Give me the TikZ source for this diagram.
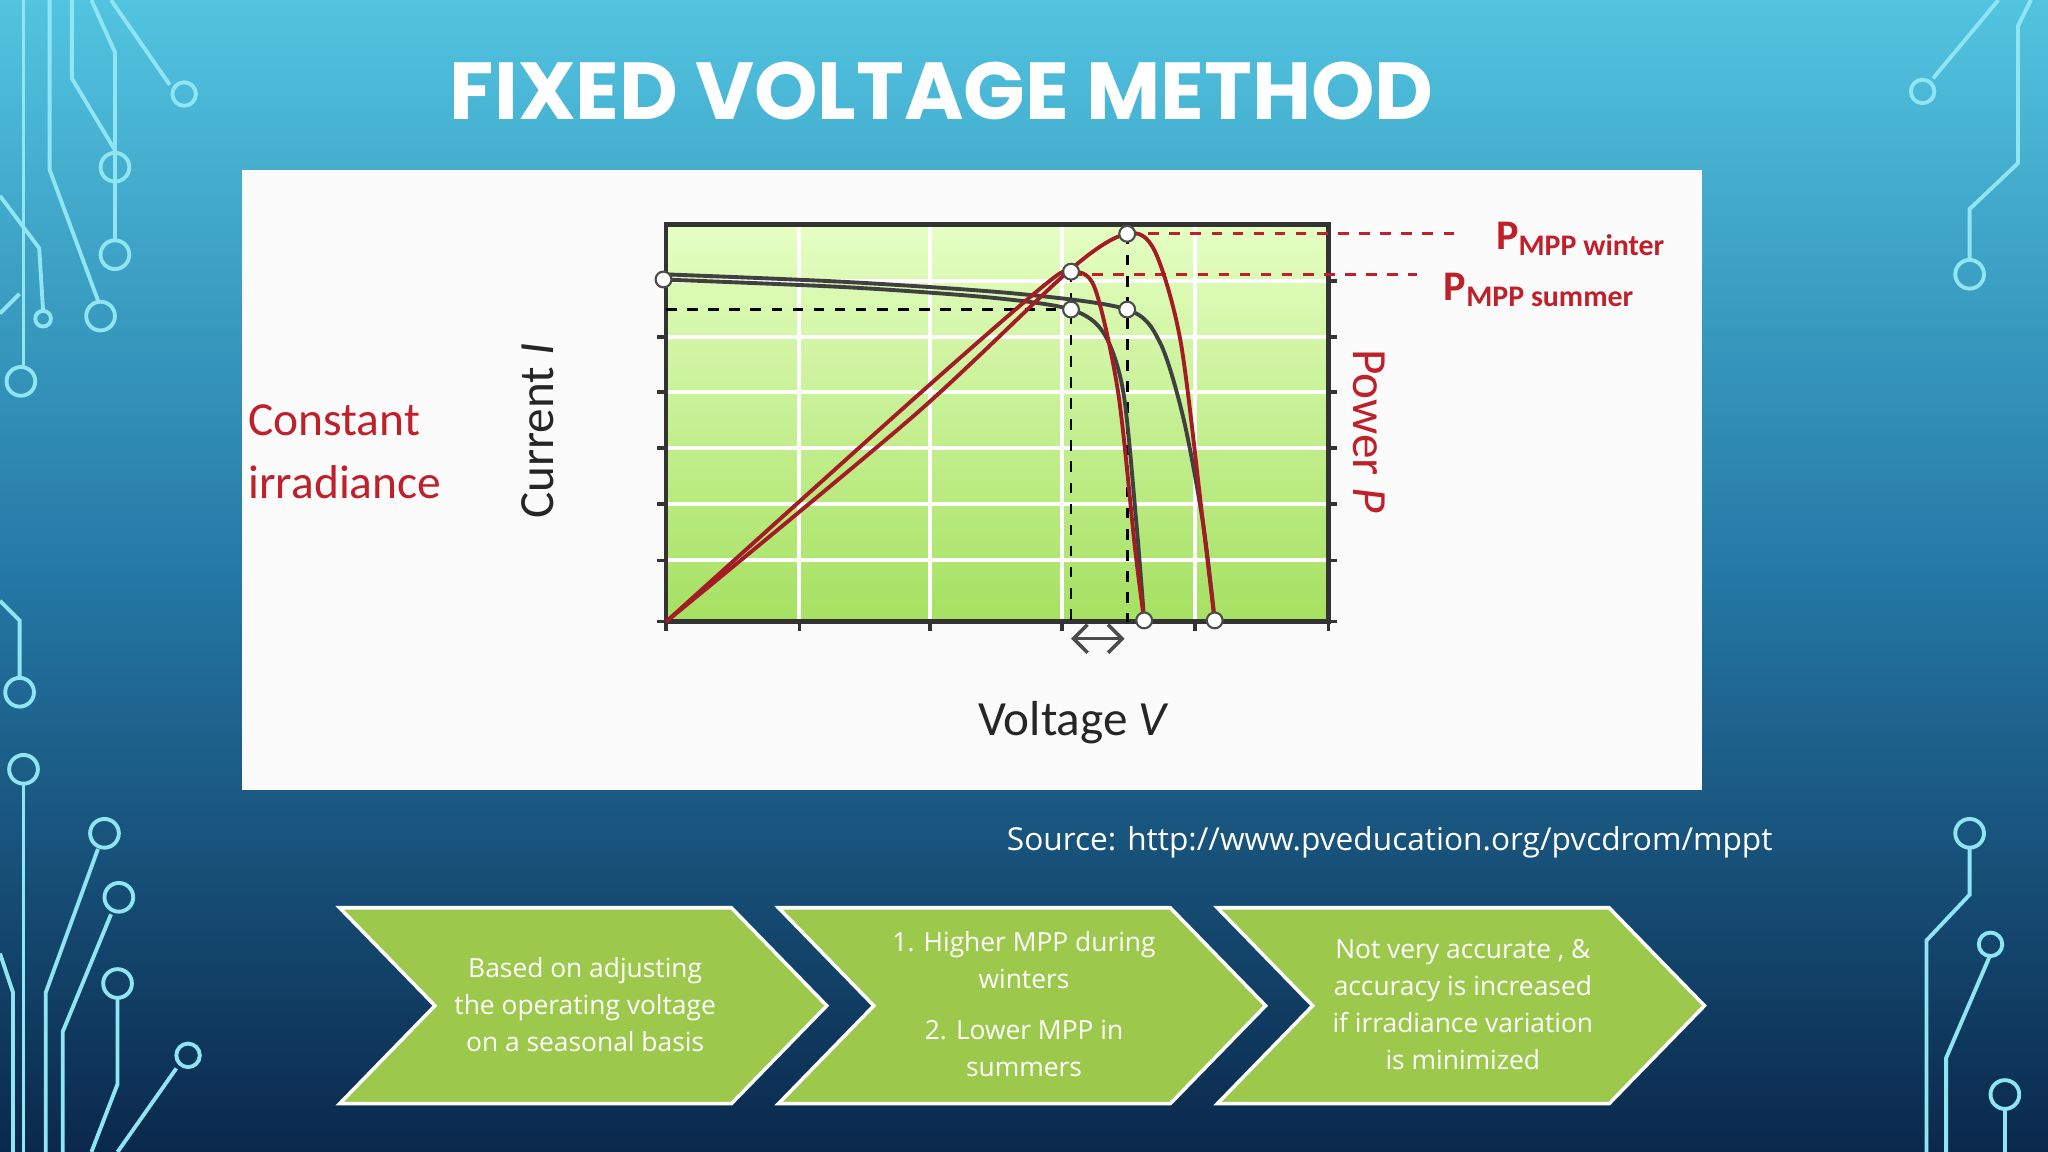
\documentclass[tikz,border=0pt]{standalone}
\usepackage{fontspec}
\setmainfont{Open Sans}
\newfontfamily\calfnt{Carlito}
\newfontfamily\ttlfnt{Poppins}
\usetikzlibrary{arrows.meta}
\definecolor{chev}{HTML}{9CC94C}
\definecolor{dred}{HTML}{C0202A}
\definecolor{circ}{HTML}{8FE6F2}
\tikzset{
 grid/.style={white,line width=1.2pt},
 mk/.style={circle,draw=black!70,fill=white,inner sep=0pt,minimum size=4.5pt,line width=0.6pt},
 chevbox/.style={fill=chev,draw=white,line width=1pt},
 chtxt/.style={white,font=\fontsize{7.5}{10.5}\selectfont,align=center},
 cl/.style={circ,line width=1.1pt},
 cc/.style={circ,line width=1.1pt,fill=none}
}
\begin{document}
\begin{tikzpicture}[x=0.013061cm,y=-0.013061cm]
\useasboundingbox (0,0) rectangle (1568,882);
\fill[top color={rgb,255:red,82;green,196;blue,224}, bottom color={rgb,255:red,10;green,40;blue,75}, middle color={rgb,255:red,36;green,120;blue,165}] (0,0) rectangle (1568,882);
% circuits left
\draw[cl] (18,0) -- (18,280); \draw[cc] (16,292) circle (11);
\draw[cl] (38,0) -- (38,130) -- (75,230); \draw[cc] (77,242) circle (11);
\draw[cl] (55,0) -- (55,60) -- (88,115); \draw[cc] (88,128) circle (11);
\draw[cl] (70,0) -- (88,40) -- (88,185); \draw[cc] (88,195) circle (11);
\draw[cl] (85,0) -- (130,65); \draw[cc] (141,72) circle (9);
\draw[cl] (0,150) -- (30,190) -- (33,238); \draw[cc] (33,244) circle (6);
\draw[cl] (0,240) -- (15,225);
\draw[cl] (0,460) -- (15,475) -- (15,518); \draw[cc] (15,530) circle (11);
\draw[cl] (18,600) -- (18,882); \draw[cc] (18,589) circle (11);
\draw[cl] (0,730) -- (10,760) -- (10,882);
\draw[cl] (35,882) -- (35,760) -- (75,650); \draw[cc] (80,638) circle (11);
\draw[cl] (48,882) -- (48,790) -- (85,700); \draw[cc] (91,687) circle (11);
\draw[cl] (70,882) -- (90,830) -- (90,765); \draw[cc] (90,753) circle (11);
\draw[cl] (90,882) -- (135,818); \draw[cc] (144,808) circle (9);
% circuits right
\draw[cl] (1530,0) -- (1480,60); \draw[cc] (1472,70) circle (9);
\draw[cl] (1555,0) -- (1545,20) -- (1545,125) -- (1508,160) -- (1508,198); \draw[cc] (1508,210) circle (11);
\draw[cl] (1508,650) -- (1508,685) -- (1475,720) -- (1475,882); \draw[cc] (1508,638) circle (11);
\draw[cl] (1523,733) -- (1490,810) -- (1490,882); \draw[cc] (1524,723) circle (9);
\draw[cl] (1535,850) -- (1535,882); \draw[cc] (1535,838) circle (11);
% title
\node[white,font=\ttlfnt\bfseries\fontsize{23}{26}\selectfont] (title) at (721,70) {FIXED VOLTAGE METHOD};
% panel
\fill[white!97!gray] (185,130) rectangle (1303,605);
\shade[top color={rgb,255:red,225;green,255;blue,185}, bottom color={rgb,255:red,150;green,220;blue,70}] (510,172) rectangle (1017,476);
\fill[white,opacity=0.15] (510,172) rectangle (1017,476);
\foreach \x in {612,712,813,915} \draw[grid] (\x,172) -- (\x,476);
\foreach \y in {215,258,300,343,386,429} \draw[grid] (510,\y) -- (1017,\y);
\draw[line width=1.3pt,black!80] (510,172) rectangle (1017,476);
\foreach \x in {612,712,813,915} \draw[black!80,line width=1pt] (\x,476) -- (\x,483);
\foreach \y in {215,258,300,343,386,429} {\draw[black!80,line width=1pt] (510,\y) -- (503,\y); \draw[black!80,line width=1pt] (1017,\y) -- (1024,\y);}
\draw[black!80,line width=1pt] (510,476) -- (503,476) (1017,476)--(1024,476) (510,476)--(510,483) (1017,476)--(1017,483);
% dashed
\draw[dred,dashed,line width=0.8pt] (863,179) -- (1120,179);
\draw[dred,dashed,line width=0.8pt] (820,210) -- (1085,210);
\draw[black,dashed,line width=0.8pt] (510,237) -- (820,237);
\draw[black,dashed,line width=0.8pt] (820,208) -- (820,476);
\draw[black,dashed,line width=0.8pt] (863,179) -- (863,476);
% curves
\draw[black!75,line width=1.1pt] plot[smooth,tension=0.5] coordinates {(508,214)(650,220)(760,228)(820,237)(845,255)(860,300)(870,400)(876,475)};
\draw[black!75,line width=1.1pt] plot[smooth,tension=0.5] coordinates {(508,210)(650,216)(780,225)(863,237)(888,262)(906,320)(921,400)(930,475)};
\draw[dred!85!black,line width=1.1pt] plot[smooth,tension=0.5] coordinates {(510,476)(700,305)(800,218)(820,208)(838,220)(856,300)(869,420)(876,475)};
\draw[dred!85!black,line width=1.1pt] plot[smooth,tension=0.5] coordinates {(510,476)(700,318)(820,206)(863,179)(884,192)(904,262)(921,400)(930,475)};
\node[mk] (m1) at (508,214) {}; \node[mk] (m2) at (820,237) {}; \node[mk] (m3) at (863,237) {};
\node[mk] (m4) at (820,208) {}; \node[mk] (m5) at (863,179) {}; \node[mk] (m6) at (876,475) {}; \node[mk] (m7) at (930,475) {};
\coordinate (a1) at (820,489); \coordinate (a2) at (861,489);
\draw[{Straight Barb[length=4pt]}-{Straight Barb[length=4pt]},black!70,line width=1pt] (a1) -- (a2);
% labels
\node[rotate=90,black!85,font=\calfnt\fontsize{14}{16}\selectfont] (cur) at (412,330) {Current \textit{I}};
\node[rotate=-90,dred,font=\calfnt\fontsize{14}{16}\selectfont] (pow) at (1048,330) {Power \textit{P}};
\node[black!85,font=\calfnt\fontsize{14}{16}\selectfont] (volt) at (822,553) {Voltage \textit{V}};
\node[dred,font=\calfnt\fontsize{13.5}{18}\selectfont,align=left] (ci) at (264,346) {Constant\\irradiance};
\node[dred,font=\calfnt\bfseries\fontsize{12}{14}\selectfont,anchor=west] (pw) at (1136,183) {P\textsubscript{\fontsize{8.5}{10}\selectfont MPP winter}};
\node[dred,font=\calfnt\bfseries\fontsize{12}{14}\selectfont,anchor=west] (ps) at (1096,222) {P\textsubscript{\fontsize{8.5}{10}\selectfont MPP summer}};
\node[white,font=\fontsize{9}{11}\selectfont] (src) at (1064,645) {Source: http://www.pveducation.org/pvcdrom/mppt};
% chevrons
\foreach \o in {0,336,672} \draw[chevbox] (260+\o,695) -- (560+\o,695) -- (633+\o,770) -- (560+\o,845) -- (260+\o,845) -- (333+\o,770) -- cycle;
\node[chtxt] (c1) at (448,769) {Based on adjusting\\the operating voltage\\on a seasonal basis};
\node[chtxt] (c2) at (784,769) {1. Higher MPP during\\winters\\[4pt] 2. Lower MPP in\\summers};
\node[chtxt] (c3) at (1120,769) {Not very accurate , \&\\accuracy is increased\\if irradiance variation\\is minimized};
\end{tikzpicture}
\end{document}
